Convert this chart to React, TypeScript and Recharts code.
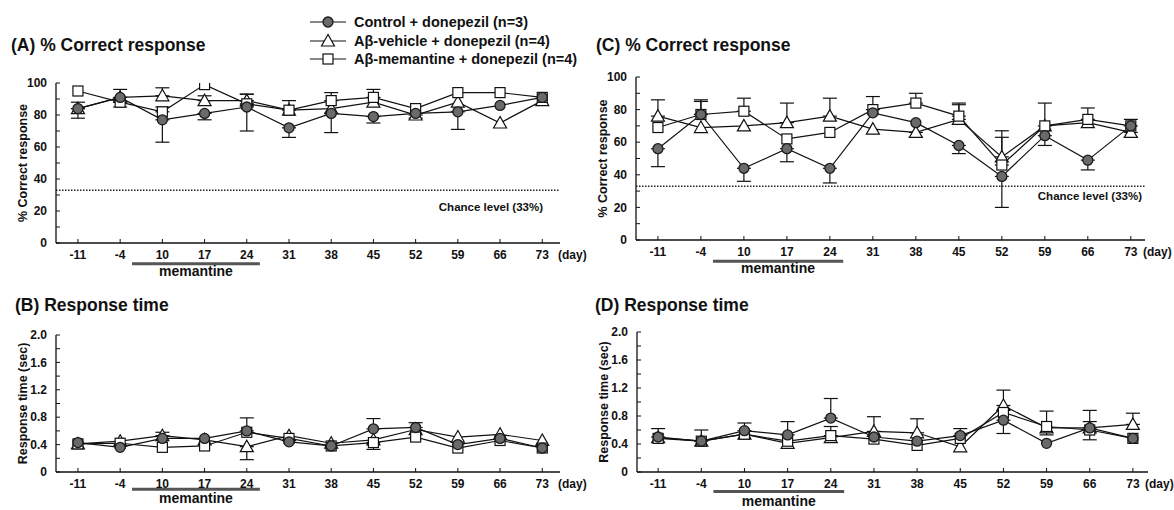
import React from 'react';
import { LineChart, Line, XAxis, YAxis, ErrorBar, ReferenceLine, Legend } from 'recharts';

const FONT = "'Liberation Sans', Arial, Helvetica, sans-serif";

// ---------- data ----------
const days = [-11, -4, 10, 17, 24, 31, 38, 45, 52, 59, 66, 73];
const seriesNames = ['Control + donepezil (n=3)', 'A\u03b2-vehicle + donepezil (n=4)', 'A\u03b2-memantine + donepezil (n=4)'];
const memantineSpan = [1.28, 4.31]; // in day-index units
const chanceLevel = 33;

// (A) % correct, first cohort
const aCtrl = [84, 91, 77, 81, 85, 72, 81, 79, 81, 82, 86, 91];
const aCtrlUp = [0, 5, 0, 0, 0, 0, 0, 0, 0, 0, 0, 0];
const aCtrlDn = [6, 0, 14, 4, 15, 6, 12, 4, 0, 11, 0, 0];
const aVeh = [84, 91, 92, 89, 89, 83, 84, 88, 80, 88, 75, 89];
const aVehUp = [4, 0, 5, 3, 4, 0, 0, 0, 0, 0, 0, 0];
const aVehDn = [0, 0, 0, 0, 0, 0, 0, 0, 2, 0, 0, 0];
const aMem = [95, 88, 82, 99, 87, 83, 89, 91, 84, 94, 94, 91];
const aMemUp = [0, 0, 3, 0, 6, 6, 5, 5, 0, 0, 0, 0];
const aMemDn = [0, 3, 0, 0, 0, 0, 0, 0, 0, 0, 0, 0];

// (B) response time
const bCtrl = [0.43, 0.36, 0.49, 0.49, 0.6, 0.44, 0.38, 0.63, 0.65, 0.4, 0.49, 0.35];
const bCtrlUp = [0, 0, 0, 0, 0.19, 0, 0, 0.15, 0.07, 0, 0, 0];
const bCtrlDn = [0, 0, 0, 0, 0, 0, 0, 0, 0, 0, 0, 0];
const bVeh = [0.41, 0.45, 0.53, 0.47, 0.37, 0.53, 0.42, 0.47, 0.62, 0.51, 0.55, 0.46];
const bVehUp = [0, 0, 0.05, 0, 0, 0, 0, 0, 0, 0, 0, 0];
const bVehDn = [0, 0, 0, 0, 0.19, 0, 0, 0, 0, 0, 0, 0];
const bMem = [0.41, 0.42, 0.36, 0.38, 0.58, 0.49, 0.38, 0.43, 0.51, 0.35, 0.46, 0.35];
const bMemUp = [0, 0, 0, 0, 0, 0, 0, 0, 0, 0, 0, 0];
const bMemDn = [0, 0, 0, 0, 0, 0, 0, 0.1, 0, 0, 0, 0];

// (C) % correct, second cohort
const cCtrl = [56, 77, 44, 56, 44, 78, 72, 58, 39, 64, 49, 70];
const cCtrlUp = [0, 8, 0, 0, 0, 0, 0, 0, 0, 0, 0, 0];
const cCtrlDn = [11, 0, 8, 8, 9, 0, 0, 5, 19, 6, 6, 0];
const cVeh = [76, 69, 70, 72, 76, 68, 66, 74, 51, 70, 72, 66];
const cVehUp = [10, 0, 0, 12, 11, 0, 0, 10, 16, 0, 0, 0];
const cVehDn = [0, 0, 0, 0, 0, 0, 3, 0, 0, 0, 0, 3];
const cMem = [69, 77, 79, 62, 66, 80, 84, 76, 46, 70, 74, 70];
const cMemUp = [0, 9, 8, 0, 0, 8, 6, 7, 17, 14, 7, 4];
const cMemDn = [0, 0, 0, 0, 0, 0, 0, 0, 0, 0, 0, 0];

// (D) response time
const dCtrl = [0.5, 0.44, 0.59, 0.53, 0.77, 0.5, 0.44, 0.52, 0.74, 0.41, 0.63, 0.48];
const dCtrlUp = [0.12, 0.16, 0.11, 0.19, 0.28, 0, 0, 0.1, 0, 0, 0.25, 0];
const dCtrlDn = [0, 0, 0, 0, 0, 0, 0, 0, 0.19, 0, 0, 0];
const dVeh = [0.49, 0.44, 0.54, 0.41, 0.49, 0.58, 0.56, 0.36, 0.95, 0.63, 0.63, 0.68];
const dVehUp = [0, 0, 0, 0, 0, 0.21, 0.2, 0, 0.22, 0, 0, 0.16];
const dVehDn = [0, 0, 0, 0, 0, 0, 0, 0, 0, 0, 0, 0];
const dMem = [0.48, 0.44, 0.54, 0.44, 0.52, 0.47, 0.38, 0.48, 0.85, 0.65, 0.6, 0.48];
const dMemUp = [0, 0, 0, 0, 0.13, 0, 0, 0, 0, 0.22, 0.12, 0];
const dMemDn = [0, 0, 0, 0, 0, 0, 0, 0, 0, 0.12, 0.14, 0];

const pctTicks = [0, 10, 20, 30, 40, 50, 60, 70, 80, 90, 100];
const timeTicks = [0, 0.2, 0.4, 0.6, 0.8, 1.0, 1.2, 1.4, 1.6, 1.8, 2.0];
const idxTicks = days.map((_, k) => k);

const err = (dn: number, up: number) => (dn === 0 && up === 0 ? null : [dn, up]);

const buildRows = (
  c: number[], cUp: number[], cDn: number[],
  v: number[], vUp: number[], vDn: number[],
  m: number[], mUp: number[], mDn: number[]
) =>
  days.map((d, i) => ({
    i,
    day: d,
    c: c[i], cE: err(cDn[i], cUp[i]),
    v: v[i], vE: err(vDn[i], vUp[i]),
    m: m[i], mE: err(mDn[i], mUp[i]),
  }));

const rowsA = buildRows(aCtrl, aCtrlUp, aCtrlDn, aVeh, aVehUp, aVehDn, aMem, aMemUp, aMemDn);
const rowsB = buildRows(bCtrl, bCtrlUp, bCtrlDn, bVeh, bVehUp, bVehDn, bMem, bMemUp, bMemDn);
const rowsC = buildRows(cCtrl, cCtrlUp, cCtrlDn, cVeh, cVehUp, cVehDn, cMem, cMemUp, cMemDn);
const rowsD = buildRows(dCtrl, dCtrlUp, dCtrlDn, dVeh, dVehUp, dVehDn, dMem, dMemUp, dMemDn);

// ---------- markers ----------
const circleShape = (cx: number, cy: number, k?: any) => (
  <circle key={k} cx={cx} cy={cy} r={5} fill="#6a6a6a" stroke="#1a1a1a" strokeWidth={1.3} />
);
const triShape = (cx: number, cy: number, k?: any) => (
  <polygon key={k} points={`${cx},${cy - 6.5} ${cx - 6.5},${cy + 5} ${cx + 6.5},${cy + 5}`} fill="#fff" stroke="#111" strokeWidth={1.2} />
);
const sqShape = (cx: number, cy: number, k?: any) => (
  <rect key={k} x={cx - 5} y={cy - 5} width={10} height={10} fill="#fff" stroke="#111" strokeWidth={1.2} />
);
const shapes = [circleShape, triShape, sqShape];

const mkDot = (fn: any) => (p: any) => {
  if (p == null || p.cx == null || p.cy == null) return <g key={`e${p?.index}`} />;
  return fn(p.cx, p.cy, `d${p.index}`);
};

const textStyle = { fontFamily: FONT, fontWeight: 700, fill: '#111' };

const LegendContent = () => (
  <div style={{ fontFamily: FONT, fontWeight: 700, fontSize: 14.5, color: '#111' }}>
    {seriesNames.map((n, k) => (
      <div key={n} style={{ display: 'flex', alignItems: 'center', height: 18.5 }}>
        <svg width={44} height={18} style={{ display: 'block' }}>
          <line x1={2} y1={9} x2={38} y2={9} stroke="#111" strokeWidth={1.2} />
          {shapes[k](20, 9)}
        </svg>
        <span style={{ marginLeft: 2, whiteSpace: 'nowrap' }}>{n}</span>
      </div>
    ))}
  </div>
);

type PanelProps = {
  rows: any[];
  yDomain: [number, number];
  yTicks: number[];
  yFmt: (v: number) => string;
  xDomain: [number, number];
  margin: { top: number; right: number; bottom: number; left: number };
  yLabel: string;
  chance?: { dx: number; dy: number };
  barY: number;
  barLabelOffset: number;
  dayDx: number;
  legend?: boolean;
};

function Panel({ rows, yDomain, yTicks, yFmt, xDomain, margin, yLabel, chance, barY, barLabelOffset, dayDx, legend }: PanelProps) {
  const yLabelContent = (props: any) => {
    const vb = props.viewBox || {};
    const cx = vb.x + 7;
    const cy = vb.y + vb.height / 2;
    return (
      <text x={cx} y={cy} transform={`rotate(-90, ${cx}, ${cy})`} textAnchor="middle" dominantBaseline="central" fontSize={12.5} {...textStyle}>
        {yLabel}
      </text>
    );
  };
  const dayContent = (props: any) => {
    const vb = props.viewBox || {};
    return (
      <text x={vb.x + vb.width + dayDx} y={vb.y + 16} textAnchor="start" fontSize={12} {...textStyle}>
        (day)
      </text>
    );
  };
  const chanceContent = (props: any) => {
    const vb = props.viewBox || {};
    return (
      <text x={vb.x + vb.width + (chance ? chance.dx : 0)} y={vb.y + (chance ? chance.dy : 0)} textAnchor="end" fontSize={11.5} {...textStyle}>
        Chance level (33%)
      </text>
    );
  };
  return (
    <div style={{ position: 'absolute', left: 0, top: 0 }}>
      <LineChart width={1174} height={510} data={rows} margin={margin}>
        <XAxis
          type="number"
          dataKey="i"
          domain={xDomain}
          ticks={idxTicks}
          interval={0}
          allowDataOverflow
          tickFormatter={(v: number) => String(days[v])}
          tickSize={-4}
          tickMargin={11}
          height={30}
          tick={{ fontSize: 12, ...textStyle }}
          axisLine={{ stroke: '#111', strokeWidth: 1.3 }}
          tickLine={{ stroke: '#111', strokeWidth: 1 }}
          label={dayContent}
        />
        <YAxis
          type="number"
          domain={yDomain}
          ticks={yTicks}
          interval={0}
          allowDataOverflow
          tickFormatter={yFmt}
          tickSize={-4}
          tickMargin={13}
          width={40}
          tick={{ fontSize: 12, ...textStyle }}
          axisLine={{ stroke: '#111', strokeWidth: 1.3 }}
          tickLine={{ stroke: '#111', strokeWidth: 1 }}
          label={yLabelContent}
        />
        {chance && (
          <ReferenceLine y={chanceLevel} stroke="#222" strokeWidth={1.6} strokeDasharray="1.5 1.5" label={chanceContent} />
        )}
        <ReferenceLine
          segment={[{ x: memantineSpan[0], y: barY }, { x: memantineSpan[1], y: barY }]}
          ifOverflow="visible"
          stroke="#555"
          strokeWidth={3}
          label={{ value: 'memantine', position: 'bottom', offset: barLabelOffset, fontSize: 14, ...textStyle }}
        />
        <Line dataKey="v" name={seriesNames[1]} stroke="#111" strokeWidth={1.2} dot={mkDot(triShape)} isAnimationActive={false}>
          <ErrorBar dataKey="vE" width={7} stroke="#111" strokeWidth={1.2} direction="y" />
        </Line>
        <Line dataKey="m" name={seriesNames[2]} stroke="#111" strokeWidth={1.2} dot={mkDot(sqShape)} isAnimationActive={false}>
          <ErrorBar dataKey="mE" width={7} stroke="#111" strokeWidth={1.2} direction="y" />
        </Line>
        <Line dataKey="c" name={seriesNames[0]} stroke="#111" strokeWidth={1.2} dot={mkDot(circleShape)} isAnimationActive={false}>
          <ErrorBar dataKey="cE" width={7} stroke="#111" strokeWidth={1.2} direction="y" />
        </Line>
        {legend && (
          <Legend
            layout="vertical"
            align="center"
            verticalAlign="middle"
            content={LegendContent}
            wrapperStyle={{ left: 308, top: 13, width: 320, height: 60 }}
          />
        )}
      </LineChart>
    </div>
  );
}

const pctFmt = (v: number) => (v % 20 === 0 ? String(v) : '');
const timeFmt = (v: number) => {
  const t = Math.round(v * 10);
  if (t % 4 !== 0) return '';
  return t === 0 ? '0' : (t / 10).toFixed(1);
};

const titleStyle = (left: number, top: number): React.CSSProperties => ({
  position: 'absolute',
  left,
  top,
  fontFamily: FONT,
  fontWeight: 700,
  fontSize: 17.5,
  lineHeight: '20px',
  color: '#111',
  whiteSpace: 'nowrap',
});

export default function App() {
  return (
    <div style={{ position: 'absolute', left: 0, top: 0, width: 1174, height: 510, background: '#fff', overflow: 'hidden' }}>
      <Panel
        rows={rowsA}
        yDomain={[0, 100]}
        yTicks={pctTicks}
        yFmt={pctFmt}
        xDomain={[-0.52, 11.42]}
        margin={{ top: 83, right: 614, bottom: 237, left: 16 }}
        yLabel="% Correct response"
        chance={{ dx: -17, dy: 21 }}
        barY={-13}
        barLabelOffset={2}
        dayDx={-2}
        legend
      />
      <Panel
        rows={rowsB}
        yDomain={[0, 2]}
        yTicks={timeTicks}
        yFmt={timeFmt}
        xDomain={[-0.52, 11.42]}
        margin={{ top: 335, right: 614, bottom: 8, left: 16 }}
        yLabel="Response time (sec)"
        barY={-0.25}
        barLabelOffset={4}
        dayDx={-2}
      />
      <Panel
        rows={rowsC}
        yDomain={[0, 100]}
        yTicks={pctTicks}
        yFmt={pctFmt}
        xDomain={[-0.51, 11.33]}
        margin={{ top: 77, right: 29, bottom: 240, left: 596 }}
        yLabel="% Correct response"
        chance={{ dx: -3, dy: 14 }}
        barY={-13}
        barLabelOffset={2}
        dayDx={-2}
      />
      <Panel
        rows={rowsD}
        yDomain={[0, 2]}
        yTicks={timeTicks}
        yFmt={timeFmt}
        xDomain={[-0.49, 11.35]}
        margin={{ top: 332, right: 26, bottom: 8, left: 597 }}
        yLabel="Response time (sec)"
        barY={-0.28}
        barLabelOffset={4}
        dayDx={-3}
      />
      <div style={titleStyle(11, 35)}>(A) % Correct response</div>
      <div style={titleStyle(596, 35)}>(C) % Correct response</div>
      <div style={titleStyle(15, 295)}>(B) Response time</div>
      <div style={titleStyle(595, 295)}>(D) Response time</div>
    </div>
  );
}
